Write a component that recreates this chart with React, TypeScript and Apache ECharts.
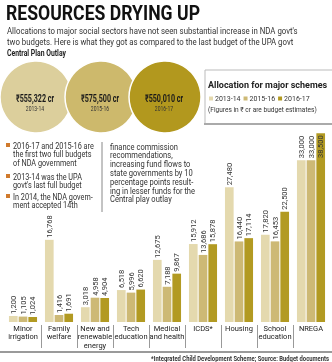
import React, { useEffect, useRef } from "react";
import * as echarts from "echarts";

const categories = ["Minor\nirrigation", "Family\nwelfare", "New and\nrenewable\nenergy", "Tech\neducation", "Medical\nand health", "ICDS*", "Housing", "School\neducation", "NREGA"];
const seriesNames = ["2013-14", "2015-16", "2016-17"];
const v2013 = [1200, 16768, 3018, 6518, 12675, 15912, 27480, 17820, 33000];
const v2015 = [1105, 1416, 4958, 5996, 7188, 13686, 16440, 16453, 33000];
const v2016 = [1024, 1691, 4904, 6620, 9867, 15878, 17114, 22500, 38500];
const outlayValues = ["₹555,322 cr", "₹575,500 cr", "₹550,010 cr"];
const outlayYears = ["2013-14", "2015-16", "2016-17"];

const COLORS = ["#e4d9ae", "#cdb975", "#b29a22"];
const CIRCLE_COLORS = ["#dccf9c", "#cdb96c", "#b2981e"];
const FONT = "Roboto, sans-serif";

export default function App() {
  const ref = useRef<HTMLDivElement>(null);
  useEffect(() => {
    if (!ref.current) return;
    const chart = echarts.init(ref.current, null, { renderer: "svg" });
    const fmt = (n: number) => n.toLocaleString("en-US");
    const mkSeries = (name: string, data: number[], color: string) => ({
      name,
      type: "bar",
      data: data.map((v) => ({
        value: v,
        label: v >= 38000
          ? { position: "insideTop", align: "right", distance: 2 }
          : undefined,
      })),
      itemStyle: { color },
      barGap: "12%",
      barCategoryGap: "22%",
      label: {
        show: true,
        position: "top",
        rotate: 90,
        align: "left",
        verticalAlign: "middle",
        distance: 2,
        fontSize: 7.5,
        fontFamily: FONT,
        color: "#333",
        formatter: (p: any) => fmt(p.value),
      },
    });

    const txt = (x: number, y: number, text: string, font: string, sx: number, extra: any = {}) => ({
      type: "text", x, y, scaleX: sx, z: 20,
      style: { text, font, fill: "#333", ...extra },
    });

    const circles: any[] = [];
    const cx = [36, 101, 165];
    for (let i = 0; i < 3; i++) {
      circles.push({
        type: "circle",
        shape: { cx: cx[i], cy: 97, r: 36 },
        style: { fill: CIRCLE_COLORS[i], stroke: "#fff", lineWidth: 1.5 },
        z: 10 + i,
      });
      circles.push(txt(cx[i] - 1, 98, outlayValues[i], `bold 10.5px ${FONT}`, 0.68, { fill: "#1a1a1a", align: "center", verticalAlign: "middle" }));
      circles.push(txt(cx[i] - 1, 108, outlayYears[i], `7px ${FONT}`, 0.72, { fill: "#333", align: "center", verticalAlign: "middle" }));
    }

    const bodyFont = `9px ${FONT}`;
    const bodySx = 0.81;
    const baseGraphic: any[] = [
      txt(6, 2, "RESOURCES DRYING UP", `bold 21px ${FONT}`, 0.84, { fill: "#111" }),
      txt(7, 25.5, "Allocations to major social sectors have not seen substantial increase in NDA govt's\ntwo budgets. Here is what they got as compared to the last budget of the UPA govt", `9.8px ${FONT}`, 0.8, { lineHeight: 10.5 }),
      txt(7, 48, "Central Plan Outlay", `bold 9.5px ${FONT}`, 0.72, { fill: "#222" }),
      ...circles,
      // legend box
      { type: "rect", shape: { x: 205, y: 70, width: 130, height: 54 }, style: { fill: "#fff", stroke: "#bbb", lineWidth: 1 } },
      { type: "rect", shape: { x: 204, y: 123, width: 128, height: 2 }, style: { fill: "#aaa" } },
      txt(208, 79, "Allocation for major schemes", `bold 9.5px ${FONT}`, 0.95, { fill: "#222" }),
      txt(208, 106, "(Figures in ₹ cr are budget estimates)", `7px ${FONT}`, 0.94),
      // bullets
      { type: "rect", shape: { x: 6, y: 143, width: 4, height: 4 }, style: { fill: "#d07a2c" } },
      { type: "rect", shape: { x: 6, y: 174, width: 4, height: 4 }, style: { fill: "#d07a2c" } },
      { type: "rect", shape: { x: 6, y: 194, width: 4, height: 4 }, style: { fill: "#d07a2c" } },
      txt(13, 141, "2016-17 and 2015-16 are\nthe first two full budgets\nof NDA government", bodyFont, bodySx, { lineHeight: 8.7 }),
      txt(13, 172, "2013-14 was the UPA\ngovt's last full budget", bodyFont, bodySx, { lineHeight: 8.7 }),
      txt(13, 192, "In 2014, the NDA govern-\nment accepted 14th", bodyFont, bodySx, { lineHeight: 8.7 }),
      { type: "line", shape: { x1: 102, y1: 142, x2: 102, y2: 212 }, style: { stroke: "#888", lineWidth: 1 } },
      txt(110, 142, "finance commission\nrecommendations,\nincreasing fund flows to\nstate governments by 10\npercentage points result-\ning in lesser funds for the\nCentral play outlay", bodyFont, 0.84, { lineHeight: 8.8 }),
      // bottom
      { type: "rect", shape: { x: 0, y: 351, width: 332, height: 2 }, style: { fill: "#9a9a9a" } },
      txt(329, 355, "*Integrated Child Development Scheme; Source: Budget documents", `bold 6.3px ${FONT}`, 0.93, { align: "right" }),
    ];

    chart.setOption({
      animation: false,
      textStyle: { fontFamily: FONT },
      legend: {
        data: seriesNames,
        left: 209, top: 95, width: 124, padding: 0,
        itemWidth: 4, itemHeight: 4, itemGap: 3,
        icon: "rect",
        textStyle: { fontSize: 7, color: "#333", fontFamily: FONT, padding: [0, 0, 0, -3] },
        z: 30,
      },
      grid: { left: 5, right: 3, top: 126, bottom: 40 },
      xAxis: {
        type: "category",
        data: categories,
        axisLine: { show: false },
        axisTick: { show: false },
        axisLabel: { interval: 0, fontSize: 7.5, lineHeight: 8.5, color: "#222", margin: 2, fontFamily: FONT, verticalAlign: "top" },
      },
      yAxis: { type: "value", min: 0, max: 40000, show: false, splitLine: { show: false } },
      series: [
        mkSeries(seriesNames[0], v2013, COLORS[0]),
        mkSeries(seriesNames[1], v2015, COLORS[1]),
        mkSeries(seriesNames[2], v2016, COLORS[2]),
      ],
      graphic: baseGraphic,
    });

    const seps: any[] = [];
    for (let i = 1; i < categories.length; i++) {
      const a = chart.convertToPixel({ xAxisIndex: 0 }, i - 1) as number;
      const b = chart.convertToPixel({ xAxisIndex: 0 }, i) as number;
      const x = Math.round((a + b) / 2) + 0.5;
      seps.push({ type: "line", shape: { x1: x, y1: 325, x2: x, y2: 348 }, style: { stroke: "#999", lineWidth: 1 } });
    }
    chart.setOption({ graphic: [...baseGraphic, ...seps] });

    return () => chart.dispose();
  }, []);
  return <div ref={ref} style={{ position: "fixed", left: 0, top: 0, width: 332, height: 362 }} />;
}
